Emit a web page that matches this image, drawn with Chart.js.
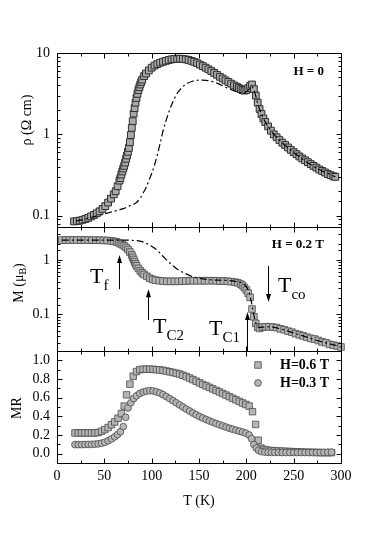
<!DOCTYPE html>
<html>
<head>
<meta charset="utf-8">
<script src="https://cdn.jsdelivr.net/npm/chart.js@4.4.1/dist/chart.umd.min.js"></script>
<style>
    html, body { margin: 0; padding: 0; background: #fff; }
    #quadro { position: relative; width: 379px; height: 545px; }
    #quadro canvas { position: absolute; left: 0; top: 0; }
</style>
</head>
<body>
<div id="quadro">
    <canvas id="graficoRho" width="379" height="545"></canvas>
    <canvas id="graficoM" width="379" height="545"></canvas>
    <canvas id="graficoMR" width="379" height="545"></canvas>
</div>
<script>
// resistividade, H = 0 (quadrados) e curva traço-ponto
var rhoT = [18, 21, 24, 27, 30, 33, 36, 39, 42, 45, 48, 51, 54, 57, 60, 62, 64, 66, 67, 68, 69, 70, 71, 72, 73, 74, 75, 76, 77, 78, 79, 80,
    81, 82, 83, 84, 85, 86, 87, 88, 89, 90, 92, 94, 97, 100, 103, 106, 109, 112, 115, 118, 121, 124, 127, 130, 133, 136, 139, 142, 145,
    148, 151, 154, 157, 160, 163, 166, 169, 172, 175, 178, 181, 184, 187, 190, 192, 194, 196, 198, 200, 202, 204, 206, 208, 210, 212,
    214, 216, 218, 220, 223, 226, 229, 232, 235, 238, 241, 244, 247, 250, 253, 256, 259, 262, 265, 268, 271, 274, 277, 280, 283, 286,
    289, 292, 294];
var rhoVal = [0.085, 0.086, 0.087, 0.089, 0.091, 0.094, 0.098, 0.102, 0.107, 0.113, 0.121, 0.131, 0.145, 0.162, 0.183, 0.20, 0.23,
    0.27, 0.29, 0.32, 0.35, 0.38, 0.41, 0.45, 0.50, 0.55, 0.61, 0.68, 0.80, 0.98, 1.2, 1.45, 1.8, 2.1, 2.45, 2.8, 3.15, 3.5, 3.8, 4.1,
    4.4, 4.7, 5.2, 5.6, 6.1, 6.6, 7.0, 7.3, 7.6, 7.8, 8.0, 8.2, 8.35, 8.45, 8.5, 8.5, 8.45, 8.35, 8.2, 8.0, 7.8, 7.5, 7.2, 6.9, 6.6,
    6.3, 6.0, 5.7, 5.4, 5.1, 4.85, 4.6, 4.4, 4.2, 4.0, 3.85, 3.7, 3.6, 3.5, 3.45, 3.5, 3.7, 3.95, 4.1, 3.6, 3.0, 2.45, 2.05, 1.78,
    1.57, 1.42, 1.25, 1.11, 1.0, 0.92, 0.85, 0.79, 0.74, 0.69, 0.645, 0.605, 0.57, 0.535, 0.505, 0.48, 0.455, 0.43, 0.41, 0.39, 0.37,
    0.355, 0.34, 0.325, 0.315, 0.305, 0.30];
var rhoLinhaT = [20, 30, 40, 50, 60, 70, 77, 84, 88, 91, 94, 97, 100, 103, 106, 109, 112, 115, 118, 121, 124, 127, 130, 134, 138, 143,
    148, 153, 158, 163, 168, 173, 178, 183, 188, 193, 197, 200, 203, 206, 208, 210, 212, 215, 220, 226, 232, 240, 250, 260, 270, 280,
    290, 294];
var rhoLinhaVal = [0.086, 0.091, 0.098, 0.105, 0.113, 0.122, 0.133, 0.145, 0.165, 0.19, 0.22, 0.27, 0.33, 0.42, 0.56, 0.78, 1.1, 1.45,
    1.85, 2.3, 2.75, 3.2, 3.55, 3.95, 4.25, 4.5, 4.62, 4.65, 4.6, 4.48, 4.3, 4.05, 3.8, 3.58, 3.4, 3.25, 3.2, 3.35, 3.6, 3.85, 3.5,
    2.95, 2.4, 1.9, 1.42, 1.11, 0.92, 0.75, 0.6, 0.49, 0.41, 0.355, 0.315, 0.30];

// magnetização, H = 0.2 T
var magT = [5, 9, 13, 17, 21, 25, 29, 33, 37, 41, 45, 49, 53, 57, 60, 63, 65, 67, 69, 71, 73, 75, 77, 79, 80, 81, 82, 83, 84, 86, 88,
    90, 92, 95, 98, 101, 104, 108, 112, 116, 120, 124, 128, 132, 136, 140, 144, 148, 152, 156, 160, 164, 168, 172, 176, 180, 184, 188,
    191, 194, 196, 198, 200, 202, 204, 206, 208, 210, 212, 214, 217, 220, 224, 228, 232, 236, 240, 244, 248, 252, 256, 260, 264, 268,
    272, 276, 280, 284, 288, 292, 296, 300];
var magVal = [2.33, 2.33, 2.33, 2.33, 2.33, 2.33, 2.33, 2.33, 2.32, 2.32, 2.31, 2.3, 2.28, 2.25, 2.21, 2.15, 2.08, 2.0, 1.92, 1.82,
    1.7, 1.56, 1.4, 1.24, 1.12, 1.02, 0.93, 0.85, 0.78, 0.70, 0.63, 0.58, 0.54, 0.5, 0.46, 0.44, 0.425, 0.415, 0.41, 0.405, 0.405,
    0.405, 0.405, 0.41, 0.41, 0.415, 0.415, 0.415, 0.415, 0.415, 0.415, 0.415, 0.415, 0.41, 0.41, 0.405, 0.4, 0.39, 0.38, 0.36, 0.34,
    0.31, 0.28, 0.245, 0.205, 0.125, 0.09, 0.068, 0.058, 0.055, 0.058, 0.059, 0.059, 0.058, 0.057, 0.054, 0.052, 0.049, 0.047, 0.044,
    0.042, 0.04, 0.038, 0.036, 0.035, 0.033, 0.031, 0.03, 0.028, 0.027, 0.026, 0.025];
var magLinhaT = [5, 20, 40, 60, 75, 82, 88, 92, 95, 98, 102, 106, 110, 114, 118, 122, 126, 130, 135, 140, 145, 150, 160, 170, 180, 188,
    194, 198, 201, 203, 205, 207, 209, 211, 214, 220, 228, 236, 244, 252, 260, 270, 280, 290, 300];
var magLinhaVal = [2.33, 2.33, 2.33, 2.33, 2.32, 2.28, 2.22, 2.12, 2.0, 1.87, 1.7, 1.5, 1.28, 1.08, 0.92, 0.8, 0.70, 0.63, 0.57, 0.52,
    0.48, 0.46, 0.435, 0.425, 0.42, 0.405, 0.385, 0.35, 0.3, 0.25, 0.18, 0.12, 0.08, 0.063, 0.057, 0.059, 0.058, 0.054, 0.049, 0.044,
    0.04, 0.035, 0.031, 0.028, 0.025];

// magnetorresistência
var mr06T = [19, 22.5, 26, 29.5, 33, 36.5, 40, 43.5, 47, 50.5, 54, 57.5, 61, 64.5, 68, 71, 73.5, 77, 80.5, 84, 87.5, 91, 94.5, 98,
    101.5, 105, 108.5, 112, 115.5, 119, 122.5, 126, 129.5, 133, 136.5, 140, 143.5, 147, 150.5, 154, 157.5, 161, 164.5, 168, 171.5,
    175, 178.5, 182, 185.5, 189, 192.5, 196, 199.5, 203, 206.5, 209.8, 212.6, 215.5, 218.5, 222, 226, 230, 234, 238, 242, 246, 250,
    254, 258, 262, 266, 270, 274, 278, 282, 286, 290];
var mr06Val = [0.222, 0.222, 0.222, 0.222, 0.222, 0.222, 0.223, 0.226, 0.24, 0.258, 0.28, 0.31, 0.34, 0.38, 0.43, 0.51, 0.63, 0.745,
    0.83, 0.88, 0.9, 0.905, 0.905, 0.905, 0.903, 0.9, 0.897, 0.892, 0.885, 0.877, 0.87, 0.862, 0.853, 0.84, 0.826, 0.81, 0.794, 0.777,
    0.759, 0.742, 0.726, 0.71, 0.694, 0.678, 0.662, 0.645, 0.628, 0.611, 0.594, 0.577, 0.56, 0.543, 0.527, 0.51, 0.45, 0.313, 0.144,
    0.06, 0.045, 0.038, 0.034, 0.031, 0.029, 0.027, 0.025, 0.023, 0.021, 0.02, 0.018, 0.016, 0.015, 0.014, 0.013, 0.012, 0.011,
    0.011, 0.011];
var mr03T = [19, 22.5, 26, 29.5, 33, 36.5, 40, 43.5, 47, 50.5, 54, 57.5, 61, 64, 67, 70, 72.5, 75, 78, 81, 84, 87.5, 91, 94.5, 98,
    101.5, 105, 108.5, 112, 115.5, 119, 122.5, 126, 129.5, 133, 136.5, 140, 143.5, 147, 150.5, 154, 157.5, 161, 164.5, 168, 171.5,
    175, 178.5, 182, 185.5, 189, 192.5, 196, 199.5, 203, 205.5, 208, 210.5, 213, 216, 219.5, 223, 226.5, 230, 234, 238, 242, 246,
    250, 254, 258, 262, 266, 270, 274, 278, 282, 286, 290];
var mr03Val = [0.097, 0.097, 0.097, 0.098, 0.099, 0.1, 0.102, 0.105, 0.112, 0.122, 0.138, 0.158, 0.18, 0.205, 0.235, 0.29, 0.39, 0.49,
    0.545, 0.59, 0.62, 0.645, 0.66, 0.67, 0.675, 0.672, 0.663, 0.65, 0.632, 0.612, 0.59, 0.568, 0.545, 0.522, 0.5, 0.478, 0.457,
    0.436, 0.417, 0.398, 0.382, 0.366, 0.351, 0.337, 0.323, 0.31, 0.297, 0.285, 0.273, 0.262, 0.251, 0.241, 0.231, 0.22, 0.2, 0.16,
    0.097, 0.06, 0.035, 0.022, 0.017, 0.015, 0.014, 0.013, 0.013, 0.012, 0.012, 0.012, 0.012, 0.012, 0.012, 0.012, 0.012, 0.012,
    0.012, 0.012, 0.013, 0.015, 0.016];

// rótulos das transições: [subscrito, T, M] e setas: [T, M inicial, M final]
var transicoes = [['f', 34.8, 0.377], ['C2', 101.4, 0.0453], ['C1', 160.5, 0.0416], ['co', 233.4, 0.2575]];
var setas = [[65.5, 0.29, 1.24], [96.1, 0.0785, 0.29], [200.6, 0.0211, 0.110], [222.8, 0.775, 0.168]];

var FONTE = "'Liberation Serif', 'Times New Roman', serif";
var CINZA = '#b5b5b5';
var BORDA = '#4a4a4a';

Chart.defaults.font.family = FONTE;
Chart.defaults.font.size = 14;
Chart.defaults.color = '#000';

function pontos(xs, ys) {
    return xs.map(function (x, i) { return { x: x, y: ys[i] }; });
}

function ehDecada(v) {
    var l = Math.log10(v);
    return Math.abs(l - Math.round(l)) < 1e-6;
}

function ehPar(v) {
    return Math.abs(Math.round(v * 10)) % 2 === 0;
}

function escreveSeq(ctx, partes, x, y) {
    // partes: [texto, tamanho, deslocamento vertical]
    partes.forEach(function (p) {
        ctx.font = p[1] + 'px ' + FONTE;
        ctx.fillText(p[0], x, y + p[2]);
        x += ctx.measureText(p[0]).width;
    });
}

function larguraSeq(ctx, partes) {
    var w = 0;
    partes.forEach(function (p) {
        ctx.font = p[1] + 'px ' + FONTE;
        w += ctx.measureText(p[0]).width;
    });
    return w;
}

// moldura e marcas de escala para dentro, nos quatro lados
var molduraPlugin = {
    id: 'moldura',
    afterDatasetsDraw: function (chart) {
        var ctx = chart.ctx, a = chart.chartArea;
        var xs = chart.scales.x, ys = chart.scales.y;
        var L = Math.round(a.left) + 0.5, R = Math.round(a.right) + 0.5;
        var T = Math.round(a.top) + 0.5, B = Math.round(a.bottom) + 0.5;
        ctx.save();
        ctx.strokeStyle = '#000';
        ctx.lineWidth = 1;
        ctx.beginPath();
        xs.ticks.forEach(function (t) {
            var px = Math.round(xs.getPixelForValue(t.value)) + 0.5;
            var len = t.value % 50 === 0 ? 5 : 3;
            ctx.moveTo(px, B); ctx.lineTo(px, B - len);
            ctx.moveTo(px, T); ctx.lineTo(px, T + len);
        });
        ys.ticks.forEach(function (t) {
            var py = Math.round(ys.getPixelForValue(t.value)) + 0.5;
            if (py < a.top + 1 || py > a.bottom - 1) return;
            var major = ys.type === 'logarithmic' ? ehDecada(t.value) : ehPar(t.value);
            var len = major ? 5 : 3;
            ctx.moveTo(L, py); ctx.lineTo(L + len, py);
            ctx.moveTo(R, py); ctx.lineTo(R - len, py);
        });
        ctx.stroke();
        ctx.strokeRect(L, T, R - L, B - T);
        ctx.restore();
    }
};

// títulos dos eixos y, rótulos de campo, transições e legenda
var textosPlugin = {
    id: 'textos',
    afterDraw: function (chart, args, o) {
        var ctx = chart.ctx, a = chart.chartArea;
        var xs = chart.scales.x, ys = chart.scales.y;
        ctx.save();
        ctx.fillStyle = '#000';
        ctx.strokeStyle = '#000';

        if (o.tituloY) {
            ctx.save();
            ctx.translate(a.left + o.tituloPos[0], a.top + o.tituloPos[1]);
            ctx.rotate(-Math.PI / 2);
            ctx.textBaseline = 'middle';
            ctx.textAlign = 'left';
            escreveSeq(ctx, o.tituloY, -larguraSeq(ctx, o.tituloY) / 2, 0);
            ctx.restore();
        }

        if (o.campo) {
            ctx.font = 'bold 13px ' + FONTE;
            ctx.textAlign = 'right';
            ctx.textBaseline = 'middle';
            ctx.fillText(o.campo, a.right - 17, a.top + o.campoDy);
        }

        if (o.transicoes) {
            ctx.textAlign = 'left';
            ctx.textBaseline = 'alphabetic';
            o.transicoes.forEach(function (t) {
                escreveSeq(ctx, [['T', 22, 0], [t[0], 15, 7]], xs.getPixelForValue(t[1]), ys.getPixelForValue(t[2]));
            });
        }

        if (o.setas) {
            ctx.lineWidth = 1;
            o.setas.forEach(function (s) {
                var x = Math.round(xs.getPixelForValue(s[0])) + 0.5;
                var y0 = ys.getPixelForValue(s[1]), y1 = ys.getPixelForValue(s[2]);
                var dir = y1 < y0 ? 1 : -1;
                ctx.beginPath();
                ctx.moveTo(x, y0);
                ctx.lineTo(x, y1 + dir * 5);
                ctx.stroke();
                ctx.beginPath();
                ctx.moveTo(x, y1);
                ctx.lineTo(x - 2.5, y1 + dir * 8);
                ctx.lineTo(x + 2.5, y1 + dir * 8);
                ctx.closePath();
                ctx.fill();
            });
        }

        if (o.legenda) {
            ctx.font = 'bold 14px ' + FONTE;
            ctx.textAlign = 'left';
            ctx.textBaseline = 'middle';
            chart.data.datasets.forEach(function (ds, i) {
                var cx = a.right - 83, cy = a.top + 14 + i * 18;
                ctx.fillStyle = ds.backgroundColor;
                ctx.strokeStyle = ds.borderColor;
                ctx.lineWidth = ds.borderWidth;
                ctx.beginPath();
                if (ds.pointStyle === 'rect') {
                    var h = ds.pointRadius * Math.SQRT1_2;
                    ctx.rect(cx - h, cy - h, 2 * h, 2 * h);
                } else {
                    ctx.arc(cx, cy, ds.pointRadius, 0, 2 * Math.PI);
                }
                ctx.fill();
                ctx.stroke();
                ctx.fillStyle = '#000';
                ctx.fillText(ds.label, cx + 22, cy);
            });
        }
        ctx.restore();
    }
};

function eixoX(mostrar) {
    return {
        type: 'linear',
        min: 0,
        max: 300,
        grid: { display: false, drawTicks: false },
        border: { display: false },
        ticks: {
            display: mostrar,
            stepSize: 25,
            autoSkip: false,
            maxRotation: 0,
            padding: 5,
            callback: function (v) { return v % 50 === 0 ? String(v) : ''; }
        },
        title: { display: mostrar, text: 'T (K)', font: { size: 14 }, padding: { top: 0, bottom: 3 } },
        afterFit: function (s) { s.height = mostrar ? 50 : 0; }
    };
}

function eixoYLog(min, max, rotulos) {
    return {
        type: 'logarithmic',
        min: min,
        max: max,
        grid: { display: false, drawTicks: false },
        border: { display: false },
        ticks: {
            autoSkip: false,
            padding: 7,
            callback: function (v) {
                for (var i = 0; i < rotulos.length; i++) {
                    if (Math.abs(v - rotulos[i]) < rotulos[i] * 1e-6) return String(rotulos[i]);
                }
                return '';
            }
        },
        afterFit: function (s) { s.width = 57; }
    };
}

function opcoes(escalaY, topo, baixo, mostrarX, textos) {
    return {
        responsive: false,
        animation: false,
        events: [],
        layout: { padding: { left: 0, right: 38, top: topo, bottom: baixo } },
        scales: { x: eixoX(mostrarX), y: escalaY },
        plugins: {
            legend: { display: false },
            tooltip: { enabled: false },
            textos: textos
        }
    };
}

var graficoRho = new Chart(document.getElementById('graficoRho'), {
    type: 'scatter',
    data: {
        datasets: [
            {
                label: 'H = 0 (curva)',
                data: pontos(rhoLinhaT, rhoLinhaVal),
                showLine: true,
                borderColor: '#000',
                borderWidth: 1.2,
                borderDash: [7, 3, 2, 3],
                pointRadius: 0,
                cubicInterpolationMode: 'monotone'
            },
            {
                label: 'H = 0',
                data: pontos(rhoT, rhoVal),
                pointStyle: 'rect',
                pointRadius: 4.8,
                backgroundColor: '#aaaaaa',
                borderColor: '#2e2e2e',
                borderWidth: 1,
                clip: false
            }
        ]
    },
    options: opcoes(eixoYLog(0.0726, 10, [0.1, 1, 10]), 53, 318, false, {
        tituloY: [['\u03c1 (\u03a9 cm)', 14, 0]],
        tituloPos: [-30, 67],
        campo: 'H = 0',
        campoDy: 19
    }),
    plugins: [molduraPlugin, textosPlugin]
});

var graficoM = new Chart(document.getElementById('graficoM'), {
    type: 'scatter',
    data: {
        datasets: [
            {
                label: 'H = 0.2 T (curva)',
                data: pontos(magLinhaT, magLinhaVal),
                showLine: true,
                borderColor: '#000',
                borderWidth: 1.2,
                borderDash: [7, 3, 2, 3],
                pointRadius: 0,
                cubicInterpolationMode: 'monotone'
            },
            {
                label: 'H = 0.2 T',
                data: pontos(magT, magVal),
                pointStyle: 'rect',
                pointRadius: 4.7,
                backgroundColor: CINZA,
                borderColor: BORDA,
                borderWidth: 0.8,
                clip: false
            }
        ]
    },
    options: opcoes(eixoYLog(0.0211, 4.05, [0.1, 1]), 227, 194, false, {
        tituloY: [['M (\u03bc', 14, 0], ['B', 10, 4], [')', 14, 0]],
        tituloPos: [-38, 56],
        campo: 'H = 0.2 T',
        campoDy: 18,
        transicoes: transicoes,
        setas: setas
    }),
    plugins: [molduraPlugin, textosPlugin]
});

var graficoMR = new Chart(document.getElementById('graficoMR'), {
    type: 'scatter',
    data: {
        datasets: [
            {
                label: 'H=0.6 T',
                data: pontos(mr06T, mr06Val),
                pointStyle: 'rect',
                pointRadius: 4.6,
                backgroundColor: CINZA,
                borderColor: BORDA,
                borderWidth: 0.8,
                order: 1,
                clip: false
            },
            {
                label: 'H=0.3 T',
                data: pontos(mr03T, mr03Val),
                pointStyle: 'circle',
                pointRadius: 3.4,
                backgroundColor: CINZA,
                borderColor: BORDA,
                borderWidth: 0.8,
                order: 0,
                clip: false
            }
        ]
    },
    options: opcoes({
        type: 'linear',
        min: -0.1,
        max: 1.1,
        grid: { display: false, drawTicks: false },
        border: { display: false },
        ticks: {
            stepSize: 0.1,
            autoSkip: false,
            padding: 7,
            callback: function (v) { return ehPar(v) && v > -0.05 && v < 1.05 ? Math.abs(v).toFixed(1) : ''; }
        },
        afterFit: function (s) { s.width = 57; }
    }, 351, 32, true, {
        tituloY: [['MR', 14, 0]],
        tituloPos: [-40, 57],
        legenda: true
    }),
    plugins: [molduraPlugin, textosPlugin]
});
</script>
</body>
</html>
